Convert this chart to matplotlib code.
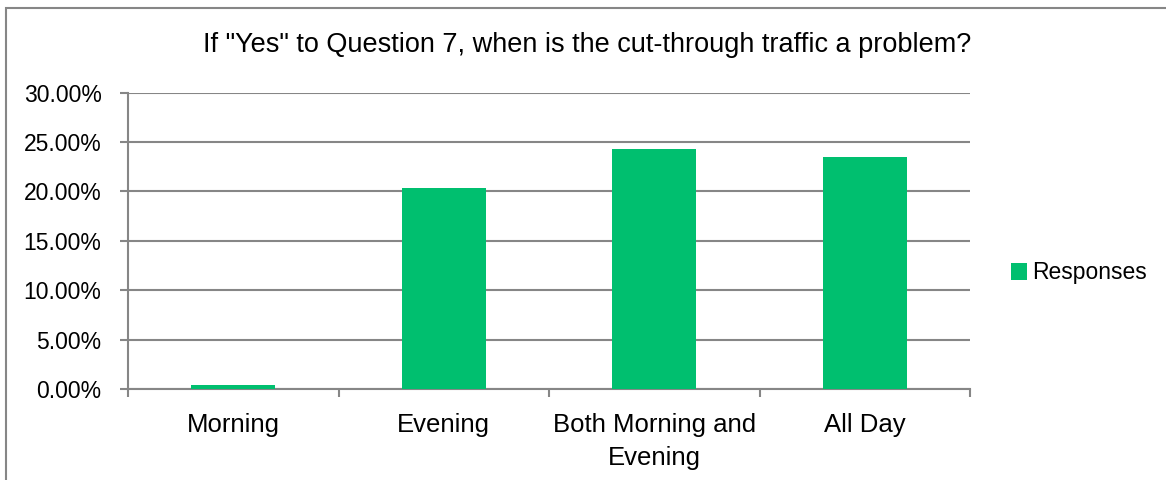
import numpy as np
import matplotlib.pyplot as plt
from matplotlib.patches import Rectangle
from matplotlib.ticker import FixedLocator, NullFormatter

categories = ["Morning", "Evening", "Both Morning and\nEvening", "All Day"]
responses = [0.4, 20.4, 24.3, 23.5]
yticks = [0, 5, 10, 15, 20, 25, 30]
title = 'If "Yes" to Question 7, when is the cut-through traffic a problem?'

plt.rcParams['font.family'] = ['Liberation Sans', 'DejaVu Sans']

green = '#00BF6F'
gray = '#868686'

fig = plt.figure(figsize=(11.66, 4.8), dpi=100)
ax = fig.add_axes([128 / 1166, 1 - 389 / 480, (970 - 128) / 1166, (389 - 92.7) / 480])

x = np.arange(len(categories))
ax.bar(x, responses, width=0.4, color=green, label='Responses', zorder=3)

ax.set_xlim(-0.5, len(categories) - 0.5)
ax.set_ylim(0, 30)
ax.set_yticks(yticks)
ax.set_yticklabels([f"{v:.2f}%" for v in yticks], fontsize=16.5)
ax.yaxis.grid(True, color=gray, linewidth=1.5, zorder=0)
ax.tick_params(axis='y', length=6, width=1.5, color=gray, pad=13)

ax.set_xticks(x)
ax.set_xticklabels(categories, fontsize=18.5, linespacing=1.5)
ax.tick_params(axis='x', length=0, pad=17)
ax.xaxis.set_minor_locator(FixedLocator(np.arange(-0.5, len(categories), 1.0)))
ax.xaxis.set_minor_formatter(NullFormatter())
ax.tick_params(axis='x', which='minor', length=5.5, width=1.5, color=gray)

for s in ['top', 'right']:
    ax.spines[s].set_visible(False)
for s in ['left', 'bottom']:
    ax.spines[s].set_color(gray)
    ax.spines[s].set_linewidth(1.5)

fig.text(587 / 1166, 1 - 45 / 480, title, fontsize=19.5,
         ha='center', va='center')

leg = fig.legend(loc='center left', bbox_to_anchor=(990 / 1166, 1 - 273 / 480),
                 frameon=False, fontsize=16.5, handlelength=0.7, handleheight=0.7,
                 handletextpad=0.25)

fig.patches.append(Rectangle((6 / 1166, -0.1), 1.2, 1 - 8 / 480 + 0.1,
                             transform=fig.transFigure, fill=False,
                             edgecolor=gray, linewidth=1.5))

fig.savefig('out.png', dpi=100)
